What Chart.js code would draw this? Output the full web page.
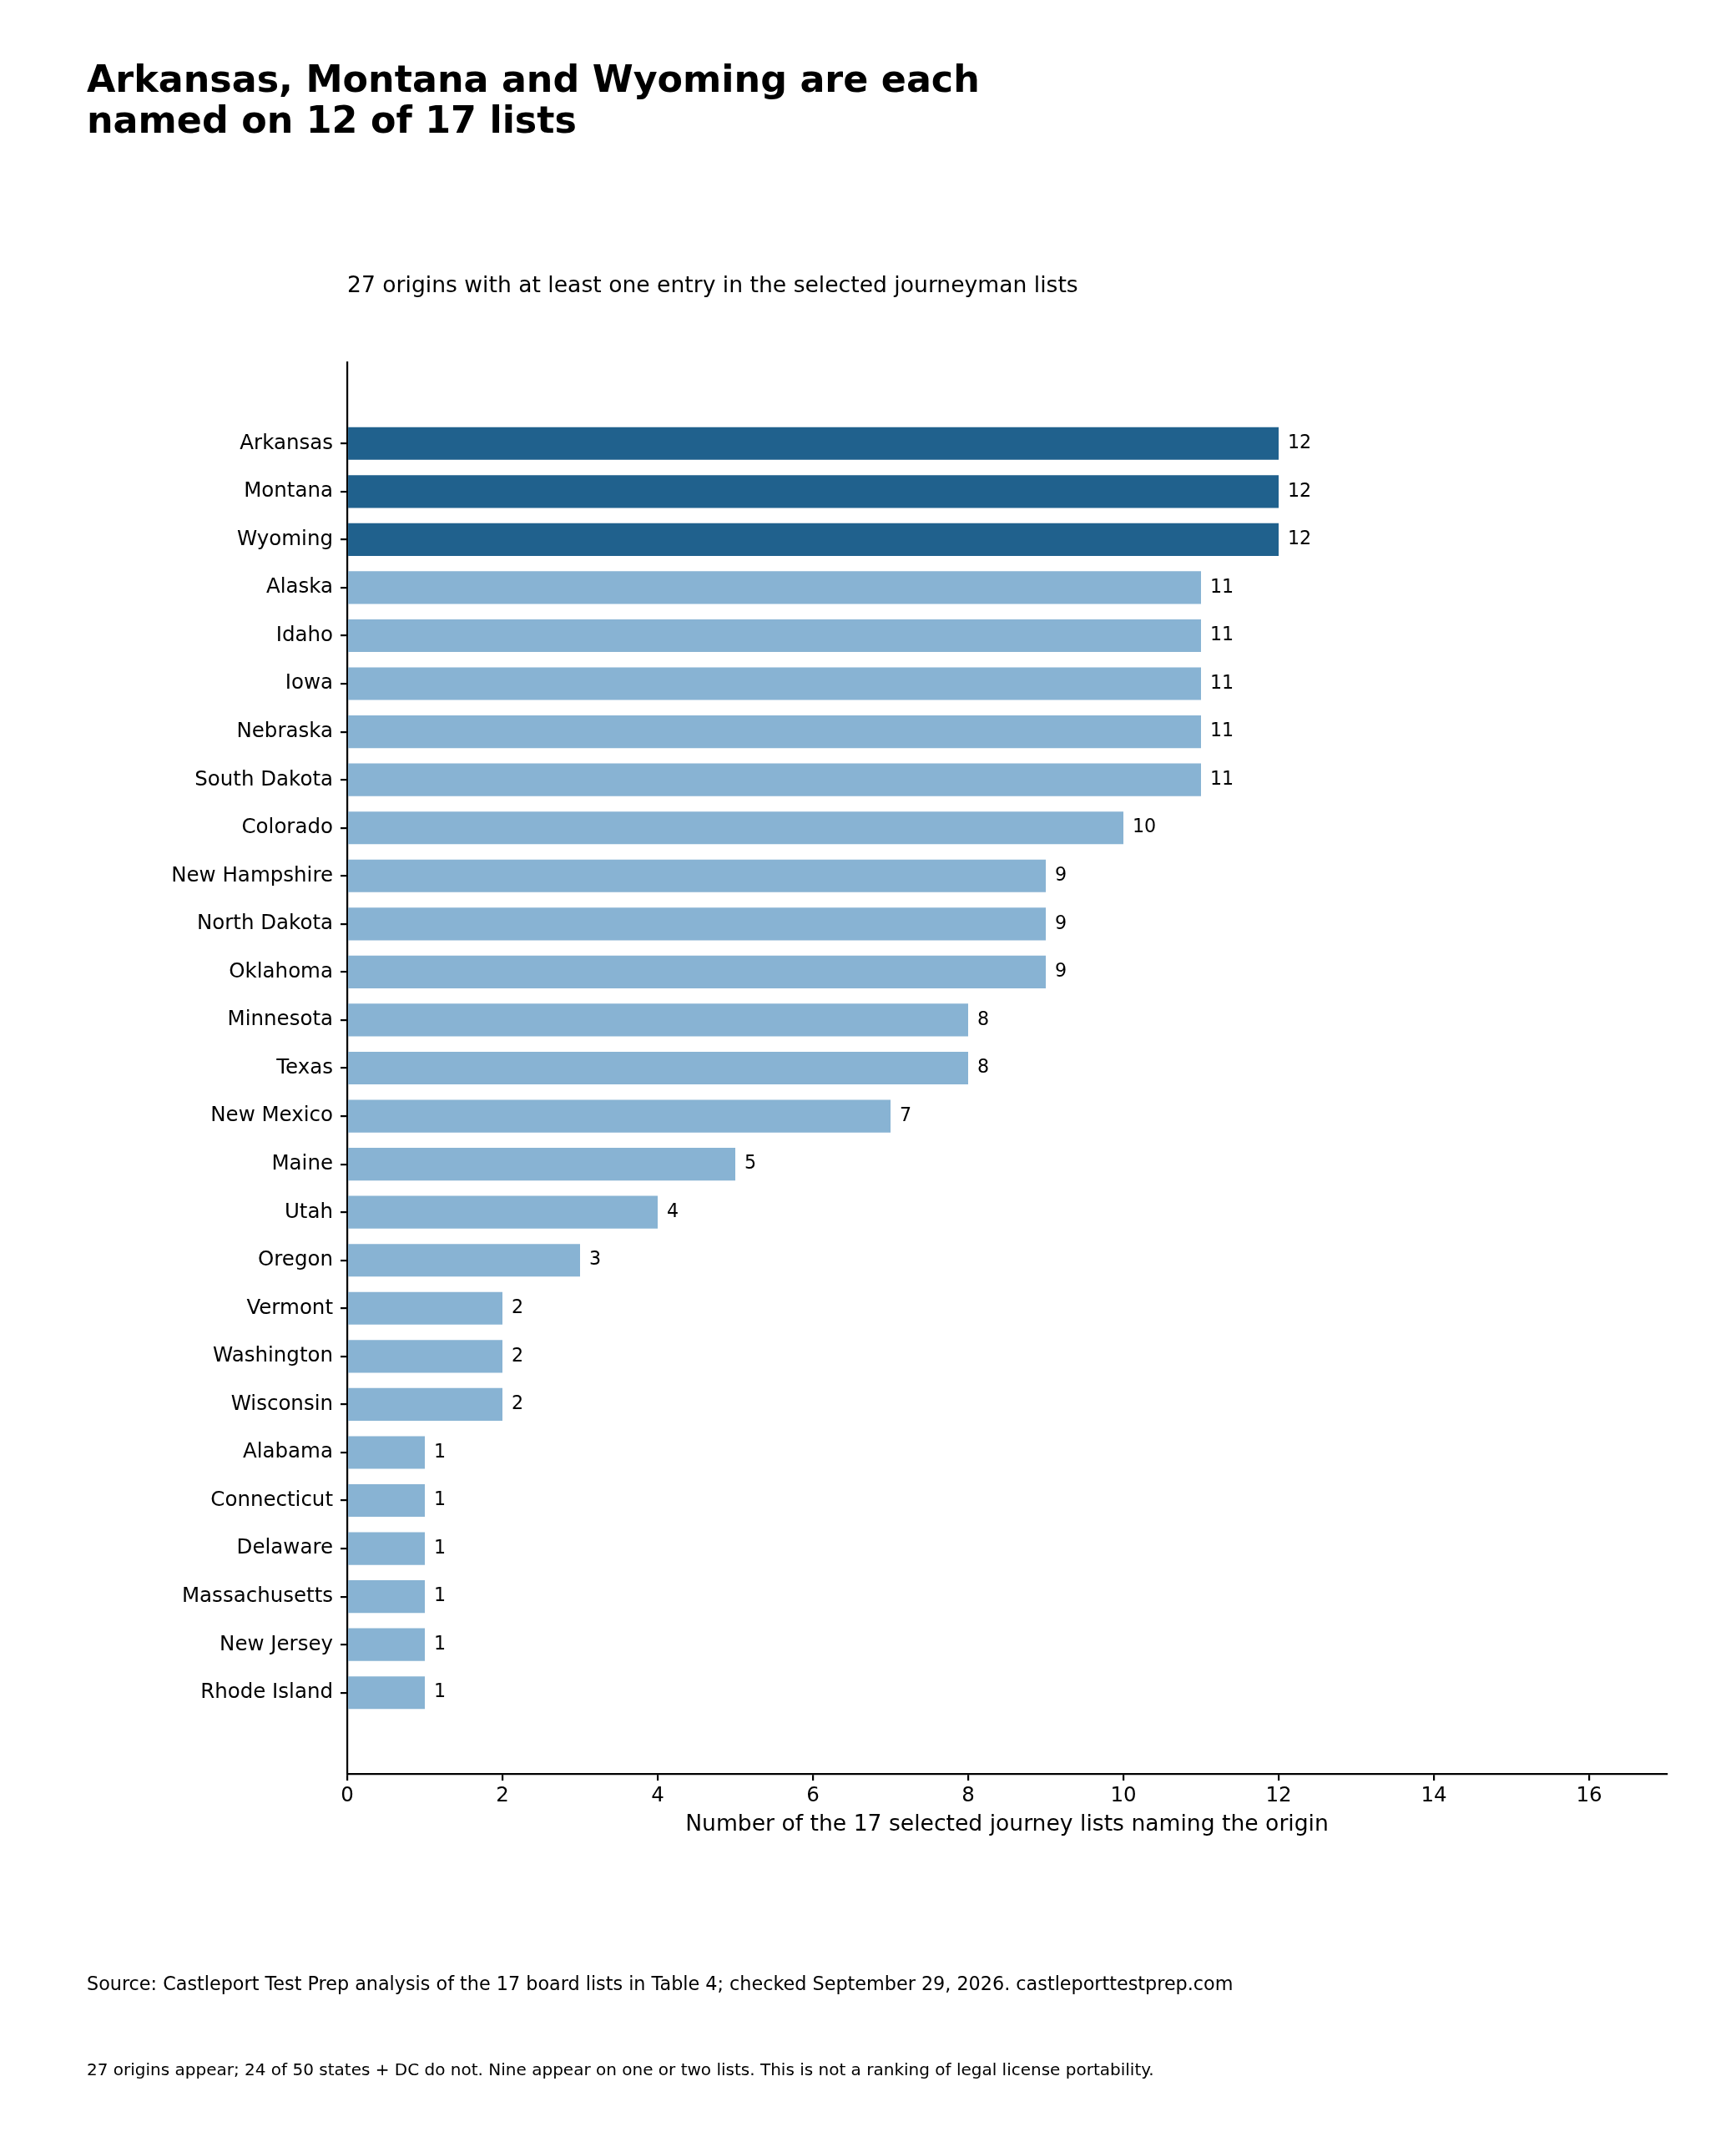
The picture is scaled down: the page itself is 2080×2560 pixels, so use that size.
<!DOCTYPE html>
<html>
<head>
<meta charset="utf-8">
<script src="https://cdn.jsdelivr.net/npm/chart.js@4.4.1/dist/chart.umd.min.js"></script>
<style>
  html, body { margin: 0; padding: 0; background: #ffffff; }
  #wrap { width: 2080px; height: 2560px; position: relative; }
  canvas { display: block; }
</style>
</head>
<body>
<div id="wrap"><canvas id="c" width="2080" height="2560"></canvas></div>
<script>
const origins = ["Arkansas","Montana","Wyoming","Alaska","Idaho","Iowa","Nebraska","South Dakota","Colorado","New Hampshire","North Dakota","Oklahoma","Minnesota","Texas","New Mexico","Maine","Utah","Oregon","Vermont","Washington","Wisconsin","Alabama","Connecticut","Delaware","Massachusetts","New Jersey","Rhode Island"];
const listCounts = [12,12,12,11,11,11,11,11,10,9,9,9,8,8,7,5,4,3,2,2,2,1,1,1,1,1,1];
const xTickValues = [0,2,4,6,8,10,12,14,16];

const titleLines = ["Arkansas, Montana and Wyoming are each", "named on 12 of 17 lists"];
const subtitleText = "27 origins with at least one entry in the selected journeyman lists";
const xAxisTitle = "Number of the 17 selected journey lists naming the origin";
const sourceText = "Source: Castleport Test Prep analysis of the 17 board lists in Table 4; checked September 29, 2026. castleporttestprep.com";
const noteText = "27 origins appear; 24 of 50 states + DC do not. Nine appear on one or two lists. This is not a ranking of legal license portability.";

const FONT = '"DejaVu Sans", "Liberation Sans", sans-serif';
const DARK = '#20618d';
const LIGHT = '#88b3d3';
const maxCount = Math.max(...listCounts);
const barColors = listCounts.map(v => v === maxCount ? DARK : LIGHT);

const PLOT = { left: 416, right: 1997, top: 434, bottom: 2125 };
const Y_PAD = 1.69;

const textPlugin = {
  id: 'texts',
  afterDraw(chart) {
    const ctx = chart.ctx;
    ctx.save();
    ctx.fillStyle = '#000';
    ctx.textAlign = 'left';
    ctx.textBaseline = 'alphabetic';
    // title
    ctx.font = 'bold 44.4px ' + FONT;
    ctx.fillText(titleLines[0], 104, 110);
    ctx.fillText(titleLines[1], 104, 159);
    // subtitle
    ctx.font = '26.6px ' + FONT;
    ctx.fillText(subtitleText, 416, 350);
    // x axis title
    ctx.textAlign = 'center';
    ctx.font = '26.6px ' + FONT;
    const ca = chart.chartArea;
    ctx.fillText(xAxisTitle, (ca.left + ca.right) / 2, 2193);
    // source + note
    ctx.textAlign = 'left';
    ctx.font = '22.3px ' + FONT;
    ctx.fillText(sourceText, 104, 2384);
    ctx.font = '20px ' + FONT;
    ctx.fillText(noteText, 104, 2486);
    // value labels
    const meta = chart.getDatasetMeta(0);
    ctx.font = '22.2px ' + FONT;
    ctx.textBaseline = 'middle';
    meta.data.forEach((bar, i) => {
      ctx.fillText(String(listCounts[i]), bar.x + 11, bar.y);
    });
    ctx.restore();
  }
};

new Chart(document.getElementById('c'), {
  type: 'bar',
  data: {
    datasets: [{
      data: listCounts.map((v, i) => ({ x: v, y: i })),
      backgroundColor: barColors,
      borderWidth: 0,
      barPercentage: 0.68,
      categoryPercentage: 1.0
    }]
  },
  options: {
    indexAxis: 'y',
    responsive: false,
    animation: false,
    devicePixelRatio: 1,
    layout: { padding: { left: 0, top: PLOT.top, right: 2080 - PLOT.right, bottom: 0 } },
    plugins: { legend: { display: false }, tooltip: { enabled: false } },
    scales: {
      x: {
        type: 'linear',
        position: 'bottom',
        min: 0,
        max: 17,
        afterBuildTicks(axis) { axis.ticks = xTickValues.map(v => ({ value: v })); },
        afterFit(axis) { axis.height = 2560 - PLOT.bottom; },
        ticks: {
          font: { family: FONT, size: 24.5 },
          color: '#000',
          padding: 4,
          includeBounds: false
        },
        grid: { display: true, drawOnChartArea: false, drawTicks: true, tickLength: 8, lineWidth: 2.2, color: '#000' },
        border: { display: true, color: '#000', width: 2.2 }
      },
      y: {
        type: 'linear',
        position: 'left',
        reverse: true,
        offset: false,
        min: -Y_PAD,
        max: origins.length - 1 + Y_PAD,
        afterBuildTicks(axis) { axis.ticks = origins.map((o, i) => ({ value: i })); },
        afterFit(axis) { axis.width = PLOT.left; },
        ticks: {
          font: { family: FONT, size: 24.5 },
          color: '#000',
          padding: 9,
          autoSkip: false,
          callback: (v) => origins[v]
        },
        grid: { display: true, offset: false, drawOnChartArea: false, drawTicks: true, tickLength: 8, lineWidth: 2.2, color: '#000' },
        border: { display: true, color: '#000', width: 2.2 }
      }
    }
  },
  plugins: [textPlugin]
});
</script>
</body>
</html>
